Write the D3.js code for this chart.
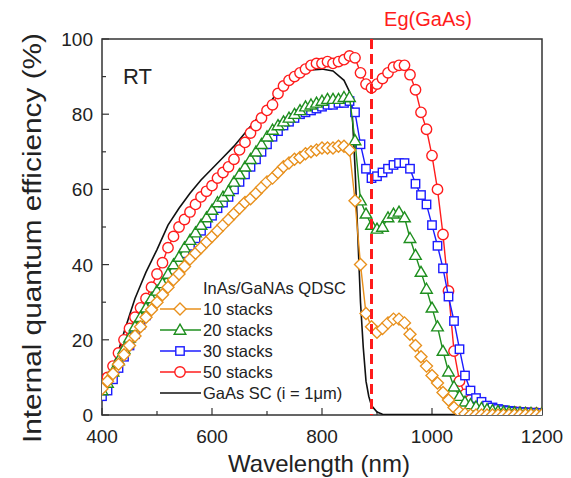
<!DOCTYPE html>
<html>
<head>
<meta charset="utf-8">
<script src="https://d3js.org/d3.v7.min.js"></script>
<style>
    body {margin: 0; background: #fff;}
    text {font-family: "Liberation Sans", Arial, sans-serif; fill: #222;}
</style>
</head>
<body>
<svg width="571" height="478"></svg>
<script>
// wavelength grid of the QDSC markers (nm)
const wl = d3.range(400, 1201, 10);

const stacks10 = [7, 9, 11, 13.5, 16, 18.5, 21, 23.5, 26, 28, 30, 32, 34, 36, 37.5, 39.5, 41.5, 43, 44.5, 46,
    47.5, 49, 50.5, 52, 53.5, 55, 56.5, 57.5, 59, 60.5, 62, 63, 64.5, 66, 67, 68, 68.5, 69.5, 70, 70.5,
    71, 71, 71, 71.5, 71.5, 70.5, 57, 40, 27, 23.5, 22, 23, 24.5, 25.5, 25.5, 24.5, 21.5, 18.5, 15.5, 13,
    10.5, 8.5, 6, 4, 2, 0.8, 0.3, 0, 0, 0, 0, 0, 0, 0, 0, 0, 0, 0, 0, 0, 0];
const stacks20 = [6.5, 8.5, 11.5, 14.5, 17.5, 20.5, 23.5, 26, 28.5, 31, 33, 35, 37.5, 40, 42, 44.5, 46.5, 48.5, 50.5, 52.5,
    54.5, 56.5, 58, 59.5, 62, 64, 66, 68, 70, 72, 74, 75.8, 77, 78, 79, 80, 81, 82, 82.5, 83,
    83.5, 84, 84, 84, 84.5, 84.5, 73, 57, 53.5, 50.5, 49.5, 50, 52.5, 53.5, 54, 52.5, 47, 42.5, 38, 33.5,
    28.5, 23.5, 17, 11.5, 7.5, 5, 3.5, 2.8, 2.2, 1.8, 1.5, 1.2, 1, 0.9, 0.8, 0.7, 0.6, 0.5, 0.5, 0.4, 0.4];
const stacks30 = [5, 6.5, 9.5, 12.5, 15.5, 18.5, 21.5, 24, 26.5, 29, 31.5, 33.5, 36, 38.5, 40.5, 43, 45, 47, 49, 51,
    53, 55, 56.5, 58, 60, 62, 64, 66, 68, 70, 72, 74, 75.5, 77, 78, 79, 80, 80.5, 81, 81.5,
    82, 82.5, 82.5, 83, 83, 83.5, 80.5, 72, 65.5, 63, 63.5, 64.5, 65.5, 66.5, 67, 67, 65.5, 61.5, 58.5, 56,
    50.5, 45, 39, 31.5, 25, 17.5, 10.5, 6.5, 4.5, 3.5, 2.5, 2, 1.6, 1.3, 1.1, 0.9, 0.8, 0.7, 0.6, 0.5, 0.5];
const stacks50 = [8, 10, 13, 16.5, 20, 23, 26, 28.5, 31, 34, 37.5, 40.5, 44.5, 47.5, 50, 52, 54, 56, 58, 59.5,
    61, 63, 64.5, 66, 68, 70.5, 72.5, 75, 77, 79, 81, 82.5, 85.5, 87.5, 89, 90, 91, 92, 93, 93.5,
    93.5, 94, 93.5, 94, 94.5, 95.5, 95, 91, 88, 87, 88, 89.5, 91, 92.5, 93, 93, 90.5, 86.5, 80.5, 76,
    69, 60, 48, 33, 17, 9, 5.5, 4, 3, 2.5, 2, 1.6, 1.3, 1.1, 0.9, 0.8, 0.7, 0.6, 0.5, 0.5, 0.4];

// GaAs reference cell (line only)
const gaasWl = [400, 410, 420, 430, 440, 450, 460, 470, 480, 490, 500, 520, 540, 560, 580, 600, 620, 640, 660, 680,
    700, 720, 740, 760, 780, 800, 820, 840, 850, 855, 860, 865, 870, 875, 880, 885, 890, 900, 910, 1200];
const gaasVal = [10.5, 11, 13, 17, 22, 26.5, 31, 34.5, 38, 41, 44, 50.5, 55, 59, 62.5, 65.5, 68.5, 71.5, 75, 78.5,
    82, 86, 88.5, 90.5, 91.8, 92, 91.5, 89, 86, 80, 66, 48, 30, 18, 9, 5, 2.5, 0.8, 0.2, 0];

const egGaAs = 890;
const xTicks = [400, 600, 800, 1000, 1200];
const yTicks = [0, 20, 40, 60, 80, 100];

const series = [
    {name: '10 stacks', values: stacks10, color: '#e8901c', shape: 'diamond'},
    {name: '20 stacks', values: stacks20, color: '#1f8f1f', shape: 'triangle'},
    {name: '30 stacks', values: stacks30, color: '#1c1cff', shape: 'square'},
    {name: '50 stacks', values: stacks50, color: '#ff1c1c', shape: 'circle'}
];
const drawOrder = [3, 2, 1, 0];

const svg = d3.select('svg');
const x = d3.scaleLinear().domain([400, 1200]).range([102, 542]);
const y = d3.scaleLinear().domain([0, 100]).range([415, 39]);

function marker(g, shape, color) {
    let m;
    if (shape === 'circle') {
        m = g.append('circle').attr('r', 5.2);
    } else if (shape === 'square') {
        m = g.append('rect').attr('x', -4.2).attr('y', -4.2).attr('width', 8.4).attr('height', 8.4);
    } else if (shape === 'triangle') {
        m = g.append('path').attr('d', 'M0,-5.8L5.8,4.2L-5.8,4.2Z');
    } else {
        m = g.append('path').attr('d', 'M0,-6L6,0L0,6L-6,0Z');
    }
    m.attr('fill', 'white').attr('stroke', color).attr('stroke-width', 1.4);
}

// frame
svg.append('rect').attr('x', 102).attr('y', 39).attr('width', 440).attr('height', 376)
    .attr('fill', 'none').attr('stroke', '#333').attr('stroke-width', 1.5);

// ticks (inward) with minor ticks
const xMinor = d3.range(500, 1200, 200);
const yMinor = d3.range(10, 100, 20);
svg.append('g').selectAll('line').data(xTicks.concat(xMinor)).join('line')
    .attr('x1', d => x(d)).attr('x2', d => x(d))
    .attr('y1', 415).attr('y2', d => xTicks.includes(d) ? 408 : 411)
    .attr('stroke', '#333').attr('stroke-width', 1.2);
svg.append('g').selectAll('line').data(yTicks.concat(yMinor)).join('line')
    .attr('y1', d => y(d)).attr('y2', d => y(d))
    .attr('x1', 102).attr('x2', d => yTicks.includes(d) ? 109 : 106)
    .attr('stroke', '#333').attr('stroke-width', 1.2);

svg.append('g').selectAll('text').data(xTicks).join('text')
    .attr('x', d => x(d)).attr('y', 443)
    .attr('text-anchor', 'middle').style('font-size', '19px')
    .text(d => d);
svg.append('g').selectAll('text').data(yTicks).join('text')
    .attr('x', 93).attr('y', d => y(d) + 7)
    .attr('text-anchor', 'end').style('font-size', '19px')
    .text(d => d);

// axis titles
svg.append('text').attr('x', 319).attr('y', 472).attr('text-anchor', 'middle')
    .style('font-size', '24px').text('Wavelength (nm)');
svg.append('text').attr('transform', 'translate(41,238) rotate(-90)').attr('text-anchor', 'middle')
    .attr('textLength', 410).attr('lengthAdjust', 'spacingAndGlyphs')
    .style('font-size', '25px').text('Internal quantum efficiency (%)');

svg.append('text').attr('x', 123).attr('y', 84).style('font-size', '22px').text('RT');

// GaAs SC
svg.append('clipPath').attr('id', 'plotclip')
    .append('rect').attr('x', 102).attr('y', 39).attr('width', 440).attr('height', 376);
const plot = svg.append('g').attr('clip-path', 'url(#plotclip)');

plot.append('path')
    .datum(gaasWl.map((w, i) => [w, gaasVal[i]]))
    .attr('fill', 'none').attr('stroke', '#111').attr('stroke-width', 1.6)
    .attr('d', d3.line().x(d => x(d[0])).y(d => y(d[1])));

const line = d3.line().x((d, i) => x(wl[i])).y(d => y(d));
drawOrder.forEach(k => {
    const s = series[k];
    const g = plot.append('g');
    g.append('path').datum(s.values)
        .attr('fill', 'none').attr('stroke', s.color).attr('stroke-width', 1.4)
        .attr('d', line);
    s.values.forEach((v, i) => {
        const mg = g.append('g').attr('transform', `translate(${x(wl[i])},${y(v)})`);
        marker(mg, s.shape, s.color);
    });
});

// band gap
svg.append('line').attr('x1', x(egGaAs)).attr('x2', x(egGaAs)).attr('y1', 39).attr('y2', 415)
    .attr('stroke', '#ff1c1c').attr('stroke-width', 3).attr('stroke-dasharray', '10,5');
svg.append('text').attr('x', 428).attr('y', 26).attr('text-anchor', 'middle')
    .style('font-size', '20px').style('fill', '#ff1c1c').text('Eg(GaAs)');

// legend
const lg = svg.append('g');
lg.append('text').attr('x', 203).attr('y', 294).style('font-size', '16.5px').text('InAs/GaNAs QDSC');
series.forEach((s, i) => {
    const yy = 309 + i * 21;
    lg.append('line').attr('x1', 160).attr('x2', 201).attr('y1', yy).attr('y2', yy)
        .attr('stroke', s.color).attr('stroke-width', 1.4);
    const mg = lg.append('g').attr('transform', `translate(180,${yy})`);
    marker(mg, s.shape, s.color);
    lg.append('text').attr('x', 203).attr('y', yy + 6).style('font-size', '16.5px').text(s.name);
});
const gy = 309 + 4 * 21;
lg.append('line').attr('x1', 160).attr('x2', 201).attr('y1', gy).attr('y2', gy)
    .attr('stroke', '#111').attr('stroke-width', 1.6);
lg.append('text').attr('x', 203).attr('y', gy + 6).style('font-size', '16.5px').text('GaAs SC (i = 1\u03bcm)');
</script>
</body>
</html>
